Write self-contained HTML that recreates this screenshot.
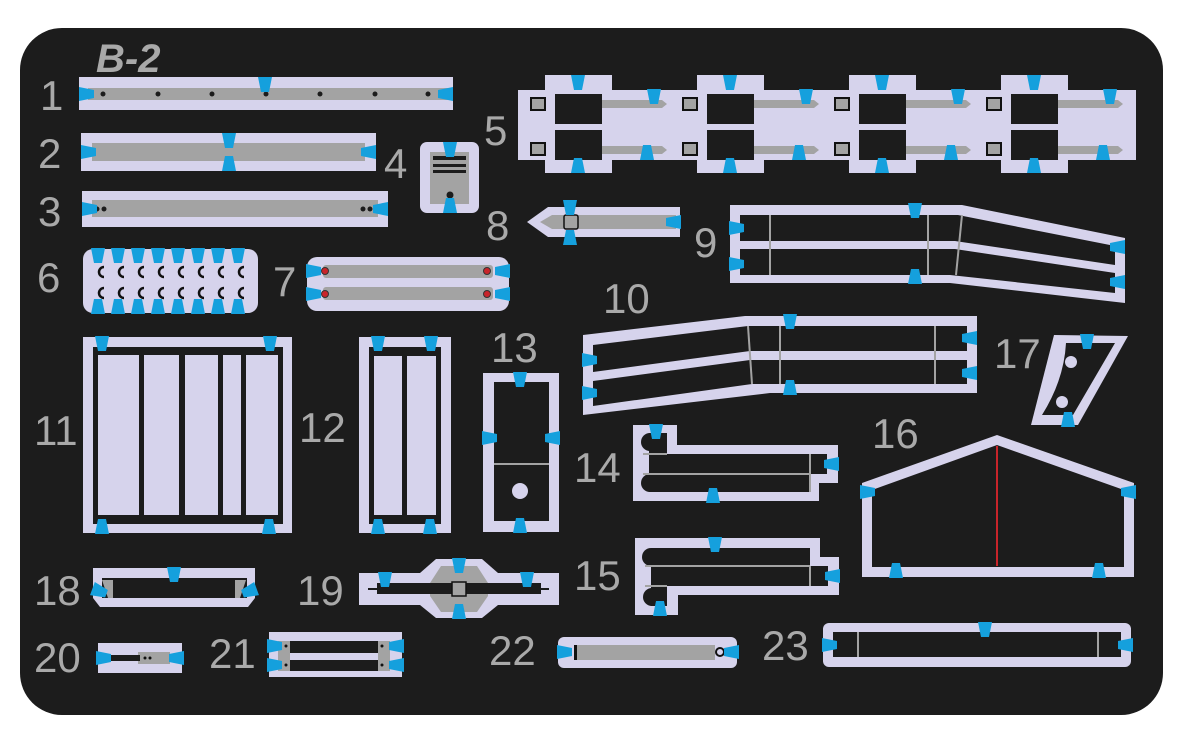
<!DOCTYPE html>
<html><head><meta charset="utf-8"><style>html,body{margin:0;padding:0;background:#fff}svg{display:block}</style></head>
<body>
<svg width="1200" height="751" viewBox="0 0 1200 751" xmlns="http://www.w3.org/2000/svg">
<defs>
<polygon id="t" points="-7,-7 7,-7 4,8 -4,8" fill="#15a0dd"/>
<path id="c" d="M3,-5 A5,5 0 1 0 3,5" fill="none" stroke="#111" stroke-width="2.5"/>
</defs>
<rect x="20" y="28" width="1143" height="687" rx="42" fill="#1c1c1c"/>
<g font-family="Liberation Sans, sans-serif" font-size="42" fill="#a9a9a9">
<text x="96" y="72" font-weight="bold" font-style="italic" font-size="40">B-2</text>
<text x="40" y="110">1</text><text x="38" y="168">2</text><text x="38" y="226">3</text>
<text x="384" y="178">4</text><text x="484" y="145">5</text><text x="37" y="292">6</text>
<text x="273" y="296">7</text><text x="486" y="240">8</text><text x="694" y="257">9</text>
<text x="603" y="313">10</text><text x="34" y="445">11</text><text x="299" y="442">12</text>
<text x="491" y="362">13</text><text x="574" y="482">14</text><text x="574" y="590">15</text>
<text x="872" y="448">16</text><text x="994" y="368">17</text><text x="34" y="605">18</text>
<text x="297" y="605">19</text><text x="34" y="672">20</text><text x="209" y="668">21</text>
<text x="489" y="665">22</text><text x="762" y="660">23</text>
</g>
<g fill="#d6d3ec">
<!-- 1 -->
<rect x="79" y="77" width="374" height="33"/>
<!-- 2 -->
<rect x="81" y="133" width="295" height="38"/>
<!-- 3 -->
<rect x="82" y="191" width="306" height="36"/>
<!-- 4 -->
<rect x="420" y="142" width="59" height="71" rx="7"/>
<!-- 5 -->
<rect x="518" y="90" width="618" height="70"/>
<rect x="545" y="75" width="67" height="98"/><rect x="697" y="75" width="67" height="98"/>
<rect x="849" y="75" width="67" height="98"/><rect x="1001" y="75" width="67" height="98"/>
<!-- 6 -->
<rect x="83" y="249" width="175" height="64" rx="10"/>
<!-- 7 -->
<rect x="307" y="257" width="202" height="54" rx="10"/>
<!-- 8 -->
<polygon points="527,222 548,207 680,207 680,237 548,237"/>
<!-- 9 -->
<polygon points="730,205 962,205 1125,238 1125,303 950,283 730,283"/>
<!-- 10 -->
<polygon points="583,335 745,316 977,316 977,393 770,393 583,415"/>
<!-- 11 -->
<rect x="83" y="337" width="209" height="196"/>
<!-- 12 -->
<rect x="359" y="337" width="92" height="196"/>
<!-- 13 -->
<rect x="483" y="373" width="76" height="159"/>
<!-- 14 -->
<polygon points="633,425 677,425 677,445 838,445 838,483 819,483 819,501 633,501"/>
<!-- 15 -->
<polygon points="635,538 820,538 820,557 839,557 839,595 678,595 678,615 635,615"/>
<!-- 16 -->
<polygon points="862,483 997,435 1134,483 1134,577 862,577"/>
<!-- 17 -->
<polygon points="1054,335 1128,336 1078,425 1031,425"/>
<!-- 18 -->
<polygon points="93,568 255,568 255,598 248,607 100,607 93,598"/>
<!-- 19 -->
<rect x="359" y="573" width="200" height="32"/>
<polygon points="420,573 436,559 482,559 498,573 498,605 482,618 436,618 420,605"/>
<!-- 20 -->
<rect x="98" y="643" width="84" height="30"/>
<!-- 21 -->
<rect x="269" y="632" width="133" height="45"/>
<!-- 22 -->
<rect x="558" y="637" width="179" height="31" rx="6"/>
<!-- 23 -->
<rect x="823" y="623" width="308" height="44" rx="6"/>
</g>
<!-- grey / black details -->
<g fill="#a3a3a3">
<rect x="88" y="88" width="360" height="12"/>
<rect x="92" y="143" width="273" height="18"/>
<rect x="92" y="200" width="286" height="17"/>
<rect x="430" y="152" width="39" height="52"/>
<rect x="323" y="265" width="170" height="13" rx="3"/><rect x="323" y="287" width="170" height="13" rx="3"/>
<polygon points="540,222 552,215 676,215 676,229 552,229"/>
<rect x="575" y="645" width="140" height="15"/>
<polygon points="430,583 441,566 477,566 488,583 488,596 477,612 441,612 430,596"/>
<rect x="138" y="652" width="32" height="12"/>
</g>
<g fill="#1c1c1c">
<!-- 4 lines -->
<rect x="433" y="156" width="33" height="4"/><rect x="433" y="164" width="33" height="3"/><rect x="433" y="170" width="33" height="3"/>
<circle cx="450" cy="195" r="3.5"/>
<!-- 5 squares -->
<rect x="555" y="94" width="47" height="30"/><rect x="555" y="130" width="47" height="30"/>
<rect x="707" y="94" width="47" height="30"/><rect x="707" y="130" width="47" height="30"/>
<rect x="859" y="94" width="47" height="30"/><rect x="859" y="130" width="47" height="30"/>
<rect x="1011" y="94" width="47" height="30"/><rect x="1011" y="130" width="47" height="30"/>
<!-- 9 slots -->
<polygon points="740,215 958,215 1115,246 1115,265 955,241 740,241"/>
<polygon points="740,249 955,249 1115,273 1115,293 950,275 740,275"/>
<!-- 10 slots -->
<polygon points="593,345 748,326 967,326 967,351 750,351 593,372"/>
<polygon points="593,381 750,360 967,360 967,384 752,384 593,406"/>
<!-- 11/12 frames -->
<rect x="93" y="347" width="190" height="177"/>
<rect x="369" y="347" width="72" height="177"/>
<rect x="494" y="382" width="55" height="139"/>
<!-- 14 -->
<polygon points="649,433 667,433 667,454 827,454 827,474 810,474 810,492 649,492"/>
<circle cx="650" cy="442" r="9"/><circle cx="650" cy="483" r="9"/>
<!-- 15 -->
<polygon points="651,548 810,548 810,566 828,566 828,586 667,586 667,606 651,606"/>
<circle cx="651" cy="557" r="9"/><circle cx="652" cy="597" r="9"/>
<!-- 16 -->
<polygon points="872,490 997,445 1124,490 1124,567 872,567"/>
<!-- 17 -->
<path d="M1066,343 L1115,343 L1073,415 L1042,415 Q1064,380 1066,343 Z"/>
<!-- 18 -->
<rect x="102" y="578" width="145" height="20"/>
<!-- 19 -->
<rect x="377" y="583" width="164" height="11"/>
<rect x="368" y="588" width="181" height="2"/>
<!-- 20 -->
<rect x="103" y="655" width="37" height="6"/>
<!-- 21 -->
<rect x="278" y="641" width="112" height="12"/><rect x="278" y="660" width="112" height="11"/>
<!-- 23 -->
<rect x="833" y="632" width="288" height="25"/>
<!-- dots -->
<circle cx="103" cy="94" r="2.5"/><circle cx="158" cy="94" r="2.5"/><circle cx="212" cy="94" r="2.5"/><circle cx="266" cy="94" r="2.5"/><circle cx="320" cy="94" r="2.5"/><circle cx="375" cy="94" r="2.5"/><circle cx="428" cy="94" r="2.5"/>
<circle cx="97" cy="209" r="2.5"/><circle cx="104" cy="209" r="2.5"/><circle cx="363" cy="209" r="2.5"/><circle cx="370" cy="209" r="2.5"/>
</g>
<!-- 5 pins -->
<g fill="#a3a3a3">
<path d="M602,100 h60 l5,4 l-5,4 h-60z M602,146 h60 l5,4 l-5,4 h-60z M754,100 h60 l5,4 l-5,4 h-60z M754,146 h60 l5,4 l-5,4 h-60z M906,100 h60 l5,4 l-5,4 h-60z M906,146 h60 l5,4 l-5,4 h-60z M1058,100 h60 l5,4 l-5,4 h-60z M1058,146 h60 l5,4 l-5,4 h-60z"/>
<rect x="531" y="98" width="14" height="12" stroke="#111" stroke-width="2"/><rect x="531" y="143" width="14" height="12" stroke="#111" stroke-width="2"/>
<rect x="683" y="98" width="14" height="12" stroke="#111" stroke-width="2"/><rect x="683" y="143" width="14" height="12" stroke="#111" stroke-width="2"/>
<rect x="835" y="98" width="14" height="12" stroke="#111" stroke-width="2"/><rect x="835" y="143" width="14" height="12" stroke="#111" stroke-width="2"/>
<rect x="987" y="98" width="14" height="12" stroke="#111" stroke-width="2"/><rect x="987" y="143" width="14" height="12" stroke="#111" stroke-width="2"/>
<polygon points="102,580 113,580 113,598 108,598"/><polygon points="246,580 235,580 235,598 240,598"/>
<rect x="278" y="641" width="12" height="30"/><rect x="378" y="641" width="12" height="30"/>
<rect x="452" y="582" width="14" height="14" stroke="#111" stroke-width="1.5"/>
<rect x="564" y="215" width="14" height="14" rx="2" stroke="#111" stroke-width="1.5"/>
</g>
<!-- lavender panels -->
<g fill="#d6d3ec">
<rect x="98" y="355" width="41" height="160"/><rect x="144" y="355" width="35" height="160"/><rect x="185" y="355" width="33" height="160"/><rect x="223" y="355" width="18" height="160"/><rect x="246" y="355" width="32" height="160"/>
<rect x="374" y="356" width="28" height="159"/><rect x="407" y="356" width="29" height="159"/>
<circle cx="520" cy="491" r="8"/>
<circle cx="1071" cy="362" r="6"/><circle cx="1062" cy="402" r="6"/>
</g>
<!-- thin lines -->
<g stroke="#a3a3a3" stroke-width="2" fill="none">
<line x1="494" y1="464" x2="549" y2="464"/>
<line x1="770" y1="215" x2="770" y2="275"/><line x1="928" y1="215" x2="928" y2="275"/><line x1="962" y1="215" x2="956" y2="275"/>
<line x1="748" y1="326" x2="752" y2="384"/><line x1="780" y1="326" x2="780" y2="384"/><line x1="935" y1="326" x2="935" y2="384"/>
<polyline points="643,454 667,454"/><line x1="643" y1="474" x2="810" y2="474"/><line x1="810" y1="454" x2="810" y2="492"/>
<line x1="645" y1="566" x2="810" y2="566"/><line x1="810" y1="566" x2="810" y2="586"/><line x1="645" y1="586" x2="667" y2="586"/>
<line x1="858" y1="632" x2="858" y2="657"/><line x1="1098" y1="632" x2="1098" y2="657"/>
</g>
<line x1="997" y1="446" x2="997" y2="566" stroke="#c8242a" stroke-width="2"/>
<g fill="#c8242a" stroke="#333" stroke-width="1"><circle cx="325" cy="271" r="3.5"/><circle cx="487" cy="271" r="3.5"/><circle cx="325" cy="294" r="3.5"/><circle cx="487" cy="294" r="3.5"/></g>
<g fill="#111"><circle cx="145" cy="658" r="1.5"/><circle cx="150" cy="658" r="1.5"/><circle cx="286" cy="646" r="1.5"/><circle cx="286" cy="665" r="1.5"/><circle cx="382" cy="646" r="1.5"/><circle cx="382" cy="665" r="1.5"/><rect x="574" y="645" width="3" height="15"/><circle cx="720" cy="652" r="4" fill="#d6d3ec" stroke="#111" stroke-width="2"/></g>
<!-- 6 C marks -->
<g>
<use href="#c" x="101" y="272"/><use href="#c" x="121" y="272"/><use href="#c" x="141" y="272"/><use href="#c" x="161" y="272"/><use href="#c" x="181" y="272"/><use href="#c" x="201" y="272"/><use href="#c" x="221" y="272"/><use href="#c" x="241" y="272"/>
<use href="#c" x="101" y="293"/><use href="#c" x="121" y="293"/><use href="#c" x="141" y="293"/><use href="#c" x="161" y="293"/><use href="#c" x="181" y="293"/><use href="#c" x="201" y="293"/><use href="#c" x="221" y="293"/><use href="#c" x="241" y="293"/>
</g>
<!-- tabs -->
<g>
<use href="#t" transform="translate(86,94) rotate(-90)"/><use href="#t" transform="translate(446,94) rotate(90)"/><use href="#t" transform="translate(265,84)"/>
<use href="#t" transform="translate(88,152) rotate(-90)"/><use href="#t" transform="translate(369,152) rotate(90)"/><use href="#t" transform="translate(229,140)"/><use href="#t" transform="translate(229,164) rotate(180)"/>
<use href="#t" transform="translate(89,209) rotate(-90)"/><use href="#t" transform="translate(381,209) rotate(90)"/>
<use href="#t" transform="translate(450,149)"/><use href="#t" transform="translate(450,206) rotate(180)"/>
<use href="#t" transform="translate(578,82)"/><use href="#t" transform="translate(654,96)"/><use href="#t" transform="translate(578,166) rotate(180)"/><use href="#t" transform="translate(647,153) rotate(180)"/>
<use href="#t" transform="translate(730,82)"/><use href="#t" transform="translate(806,96)"/><use href="#t" transform="translate(730,166) rotate(180)"/><use href="#t" transform="translate(799,153) rotate(180)"/>
<use href="#t" transform="translate(882,82)"/><use href="#t" transform="translate(958,96)"/><use href="#t" transform="translate(882,166) rotate(180)"/><use href="#t" transform="translate(951,153) rotate(180)"/>
<use href="#t" transform="translate(1034,82)"/><use href="#t" transform="translate(1110,96)"/><use href="#t" transform="translate(1034,166) rotate(180)"/><use href="#t" transform="translate(1103,153) rotate(180)"/>
<use href="#t" transform="translate(98,255)"/><use href="#t" transform="translate(118,255)"/><use href="#t" transform="translate(138,255)"/><use href="#t" transform="translate(158,255)"/><use href="#t" transform="translate(178,255)"/><use href="#t" transform="translate(198,255)"/><use href="#t" transform="translate(218,255)"/><use href="#t" transform="translate(238,255)"/>
<use href="#t" transform="translate(98,307) rotate(180)"/><use href="#t" transform="translate(118,307) rotate(180)"/><use href="#t" transform="translate(138,307) rotate(180)"/><use href="#t" transform="translate(158,307) rotate(180)"/><use href="#t" transform="translate(178,307) rotate(180)"/><use href="#t" transform="translate(198,307) rotate(180)"/><use href="#t" transform="translate(218,307) rotate(180)"/><use href="#t" transform="translate(238,307) rotate(180)"/>
<use href="#t" transform="translate(313,271) rotate(-90)"/><use href="#t" transform="translate(313,294) rotate(-90)"/><use href="#t" transform="translate(503,271) rotate(90)"/><use href="#t" transform="translate(503,294) rotate(90)"/>
<use href="#t" transform="translate(570,207)"/><use href="#t" transform="translate(570,238) rotate(180)"/><use href="#t" transform="translate(674,222) rotate(90)"/>
<use href="#t" transform="translate(736,228) rotate(-90)"/><use href="#t" transform="translate(736,264) rotate(-90)"/><use href="#t" transform="translate(915,210)"/><use href="#t" transform="translate(915,277) rotate(180)"/><use href="#t" transform="translate(1118,247) rotate(90)"/><use href="#t" transform="translate(1118,282) rotate(90)"/>
<use href="#t" transform="translate(589,360) rotate(-90)"/><use href="#t" transform="translate(589,393) rotate(-90)"/><use href="#t" transform="translate(790,321)"/><use href="#t" transform="translate(790,388) rotate(180)"/><use href="#t" transform="translate(970,338) rotate(90)"/><use href="#t" transform="translate(970,373) rotate(90)"/>
<use href="#t" transform="translate(102,343)"/><use href="#t" transform="translate(270,343)"/><use href="#t" transform="translate(102,527) rotate(180)"/><use href="#t" transform="translate(269,527) rotate(180)"/>
<use href="#t" transform="translate(378,343)"/><use href="#t" transform="translate(431,343)"/><use href="#t" transform="translate(378,527) rotate(180)"/><use href="#t" transform="translate(430,527) rotate(180)"/>
<use href="#t" transform="translate(520,379)"/><use href="#t" transform="translate(520,526) rotate(180)"/><use href="#t" transform="translate(489,438) rotate(-90)"/><use href="#t" transform="translate(553,438) rotate(90)"/>
<use href="#t" transform="translate(656,431)"/><use href="#t" transform="translate(713,496) rotate(180)"/><use href="#t" transform="translate(832,464) rotate(90)"/>
<use href="#t" transform="translate(715,544)"/><use href="#t" transform="translate(660,609) rotate(180)"/><use href="#t" transform="translate(833,576) rotate(90)"/>
<use href="#t" transform="translate(867,492) rotate(-90)"/><use href="#t" transform="translate(1129,492) rotate(90)"/><use href="#t" transform="translate(896,571) rotate(180)"/><use href="#t" transform="translate(1099,571) rotate(180)"/>
<use href="#t" transform="translate(1087,341)"/><use href="#t" transform="translate(1068,420) rotate(180)"/>
<use href="#t" transform="translate(174,574)"/><use href="#t" transform="translate(99,591) rotate(-70)"/><use href="#t" transform="translate(250,591) rotate(70)"/>
<use href="#t" transform="translate(385,579)"/><use href="#t" transform="translate(459,565)"/><use href="#t" transform="translate(527,579)"/><use href="#t" transform="translate(459,612) rotate(180)"/>
<use href="#t" transform="translate(103,658) rotate(-90)"/><use href="#t" transform="translate(177,658) rotate(90)"/>
<use href="#t" transform="translate(274,646) rotate(-90)"/><use href="#t" transform="translate(274,665) rotate(-90)"/><use href="#t" transform="translate(397,646) rotate(90)"/><use href="#t" transform="translate(397,665) rotate(90)"/>
<use href="#t" transform="translate(564,652) rotate(-90)"/><use href="#t" transform="translate(732,652) rotate(90)"/>
<use href="#t" transform="translate(985,629)"/><use href="#t" transform="translate(829,645) rotate(-90)"/><use href="#t" transform="translate(1126,645) rotate(90)"/>
</g>
</svg>
</body></html>
